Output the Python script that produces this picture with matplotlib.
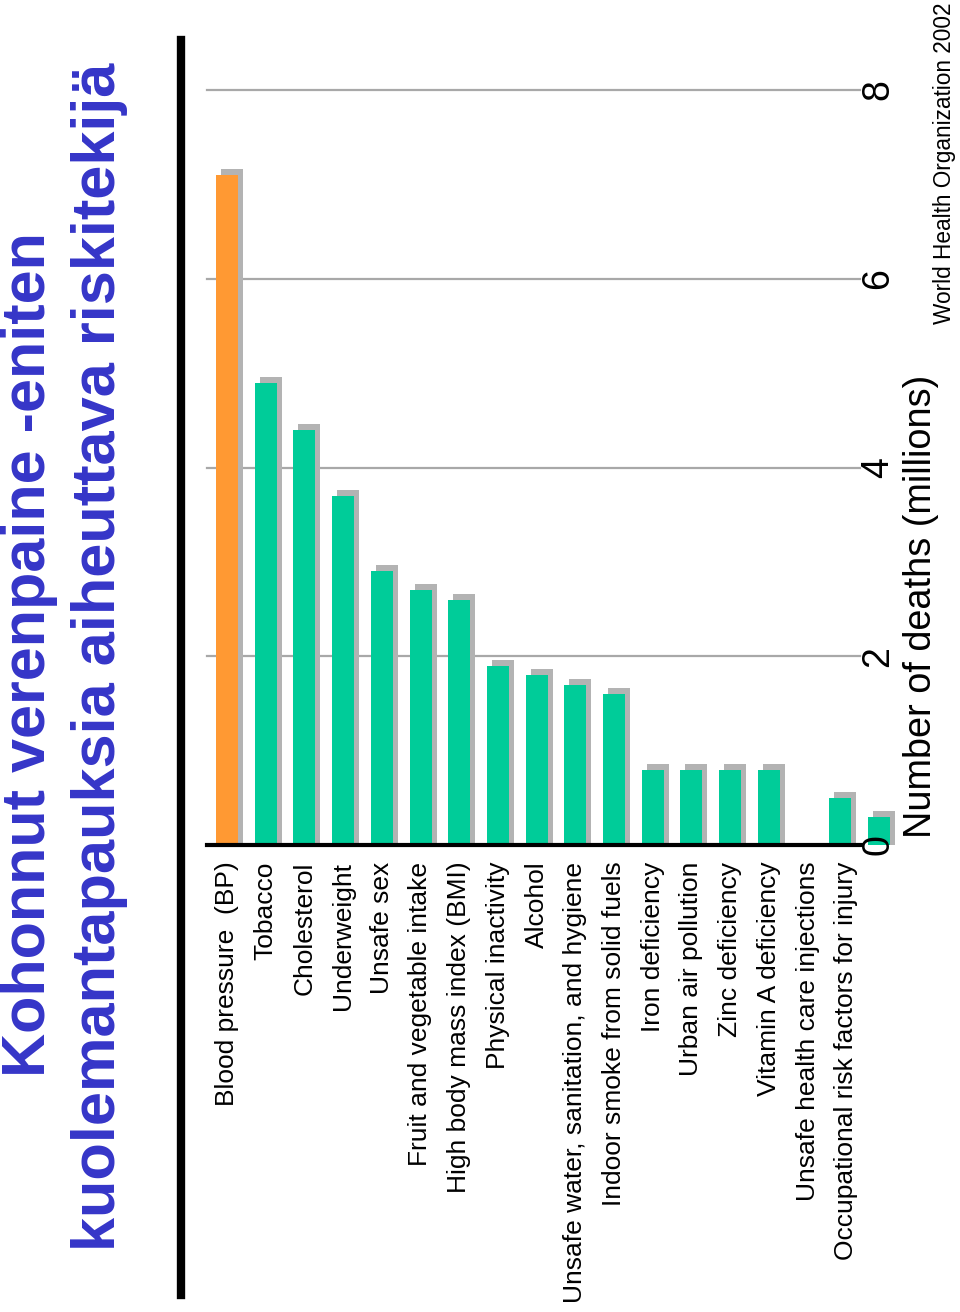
import matplotlib
matplotlib.use('Agg')
import matplotlib.pyplot as plt
import numpy as np

plt.rcParams['font.family'] = ['Liberation Sans', 'DejaVu Sans']

labels = ['Blood pressure  (BP)', 'Tobacco', 'Cholesterol', 'Underweight', 'Unsafe sex',
          'Fruit and vegetable intake', 'High body mass index (BMI)', 'Physical inactivity',
          'Alcohol', 'Unsafe water, sanitation, and hygiene', 'Indoor smoke from solid fuels',
          'Iron deficiency', 'Urban air pollution', 'Zinc deficiency', 'Vitamin A deficiency',
          'Unsafe health care injections', 'Occupational risk factors for injury']
deaths = [7.1, 4.9, 4.4, 3.7, 2.9, 2.7, 2.6, 1.9, 1.8, 1.7, 1.6, 0.8, 0.8, 0.8, 0.8, 0.5, 0.3]
ticks = [0, 2, 4, 6, 8]

W, H = 960, 1312
fig = plt.figure(figsize=(W / 100, H / 100), dpi=100)
fig.patch.set_facecolor('white')

# axes placed in pixel coords: x 207..862, y(0)=845, y(8)=90
step = 38.7
x0 = 227
ax = fig.add_axes([207 / W, (H - 845) / H, (862 - 207) / W, (845 - 90) / H])
ax.set_xlim((207 - x0) / step, (862 - x0) / step)
ax.set_ylim(0, 8)

pos = np.arange(len(labels), dtype=float)
bar_pos = pos.copy()
bar_pos[-2:] += 0.85   # last two bars sit shifted right in the original
bw = 22 / step
dx = 5 / step
dy = 6 / 94.4

for t in ticks[1:]:
    ax.plot([ax.get_xlim()[0], ax.get_xlim()[1] - 0.05], [t, t], color='#a8a8a8', lw=1.6,
            zorder=1, clip_on=False)

colors = ['#ff9933'] + ['#00cc99'] * (len(labels) - 1)
ax.bar(bar_pos + dx, np.array(deaths) + dy, width=bw, color='#b3b3b3', zorder=2, clip_on=False)
ax.bar(bar_pos, deaths, width=bw, color=colors, zorder=3, clip_on=False)

for s in ['top', 'right', 'left']:
    ax.spines[s].set_visible(False)
ax.spines['bottom'].set_linewidth(3)
ax.spines['bottom'].set_zorder(4)

ax.set_xticks(pos)
ax.set_xticklabels(labels, rotation=90, ha='center', va='top', fontsize=19)
ax.tick_params(axis='x', length=0, pad=12)
ax.set_yticks(ticks)
ax.set_yticklabels([str(t) for t in ticks], rotation=90, va='center', ha='left', fontsize=27)
ax.tick_params(axis='y', length=0, left=False, labelleft=False, labelright=True, pad=-1)
ax.yaxis.set_zorder(6)

fig.text(921 / W, (H - 838) / H, 'Number of deaths (millions)', rotation=90,
         ha='center', va='bottom', fontsize=27.3)
fig.text(945 / W, (H - 2) / H, 'World Health Organization 2002', rotation=90,
         ha='center', va='top', fontsize=16.3)

fig.text(30 / W, (H - 655) / H, 'Kohonnut verenpaine -eniten', rotation=90,
         ha='center', va='center', fontsize=44, fontweight='bold', color='#3535c8')
fig.text(100 / W, (H - 657) / H, 'kuolemantapauksia aiheuttava riskitekijä', rotation=90,
         ha='center', va='center', fontsize=44.2, fontweight='bold', color='#3535c8')

fig.add_artist(plt.Line2D([181 / W, 181 / W], [(H - 40) / H, (H - 1295) / H],
                          color='black', lw=6, transform=fig.transFigure))

fig.savefig('out.png', dpi=100)
